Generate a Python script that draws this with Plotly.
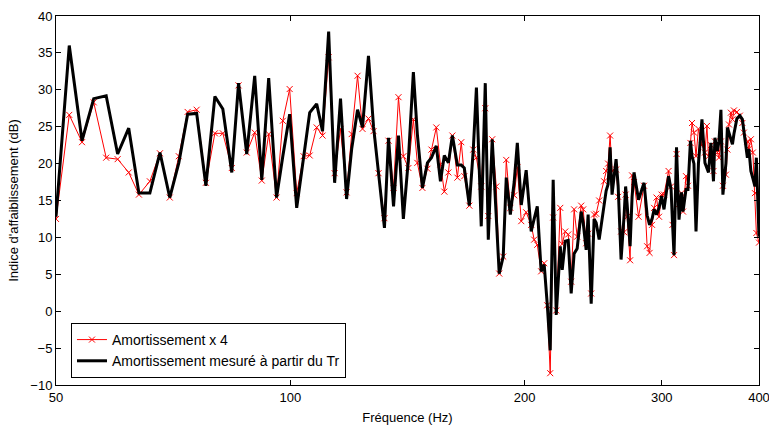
import plotly.graph_objects as go

freq_hz = [
    50.0, 52.0, 54.0, 55.9, 58.0, 60.0, 62.0, 63.9, 66.0, 68.0,
    70.0, 71.9, 73.8, 75.8, 77.9, 80.0, 81.9, 84.1, 85.8, 87.9,
    90.0, 91.9, 93.8, 96.0, 97.8, 99.8, 101.9, 104.0, 105.9, 108.1,
    110.0, 112.0, 114.0, 116.0, 118.1, 119.9, 122.0, 123.8, 126.0, 127.9,
    129.8, 132.1, 133.7, 135.7, 137.7, 139.7, 141.8, 143.9, 145.6, 147.8,
    150.0, 151.8, 154.0, 155.9, 157.7, 159.6, 161.5, 163.9, 165.8, 167.3,
    169.8, 171.8, 173.4, 175.9, 178.0, 179.6, 181.7, 183.9, 185.5, 187.7,
    189.4, 191.7, 193.9, 195.7, 198.0, 200.9, 203.9, 205.7, 207.6, 210.0,
    211.9, 213.8, 215.7, 217.6, 219.6, 222.2, 223.5, 225.5, 227.5, 229.5,
    231.5, 233.6, 236.4, 237.8, 239.9, 241.3, 243.5, 245.6, 247.1, 249.3,
    253.0, 254.5, 256.0, 257.5, 259.0, 262.1, 263.7, 266.0, 268.4, 269.6,
    270.8, 273.2, 274.8, 276.4, 280.1, 284.7, 287.3, 289.4, 291.5, 293.3,
    295.4, 297.6, 299.8, 302.0, 306.1, 308.4, 309.7, 311.1, 313.4, 315.7,
    318.1, 319.5, 322.3, 324.2, 326.6, 328.1, 330.0, 332.0, 334.4, 337.9,
    340.9, 342.9, 344.5, 347.0, 349.6, 351.1, 353.7, 355.3, 357.4, 359.5,
    362.7, 364.3, 366.0, 368.1, 369.8, 371.4, 374.7, 378.0, 380.8, 382.5,
    386.5, 388.2, 390.5, 392.8, 395.2, 396.9, 400.0,
]

amort_x4 = [
    12.5, 26.6, 22.9, 28.3, 20.8, 20.6, 18.8, 15.8, 17.6, 21.4,
    15.4, 21.0, 27.0, 27.3, 17.4, 24.1, 24.1, 19.4, 30.6, 21.5,
    24.2, 17.7, 24.0, 15.4, 25.8, 30.1, 16.0, 21.0, 21.1, 24.9,
    23.8, 34.4, 18.7, 24.7, 16.1, 24.0, 31.9, 24.7, 26.1, 24.4,
    18.7, 12.6, 23.1, 16.7, 29.0, 21.0, 19.4, 26.0, 20.1, 16.7,
    19.3, 21.9, 24.9, 19.9, 16.2, 18.8, 23.8, 18.1, 22.9, 18.3,
    14.3, 21.9, 20.8, 16.9, 27.5, 12.9, 23.3, 16.9, 5.1, 7.4,
    20.5, 14.0, 15.7, 19.5, 12.2, 13.4, 11.7, 9.7, 9.0, 5.4,
    6.5, 0.8, -8.4, 12.7, 0.1, 14.0, 9.1, 10.8, 10.4, 4.0,
    13.8, 10.1, 14.3, 13.8, 9.2, 10.5, 2.4, 13.1, 13.2, 15.0,
    17.6, 19.0, 20.0, 23.8, 19.0, 19.2, 15.5, 10.8, 10.7, 15.8,
    12.8, 6.9, 18.4, 17.5, 12.8, 17.0, 8.8, 7.9, 11.7, 14.0,
    15.4, 12.8, 15.8, 15.8, 19.0, 16.9, 11.7, 7.6, 21.3, 14.5,
    16.0, 13.5, 18.3, 17.0, 22.8, 25.5, 24.2, 21.0, 24.7, 22.5,
    21.5, 25.1, 21.0, 22.5, 19.0, 23.0, 21.5, 20.8, 23.0, 17.0,
    18.5, 21.9, 25.3, 26.9, 26.0, 27.2, 27.0, 26.5, 25.5, 24.2,
    23.0, 22.0, 23.3, 21.5, 16.0, 10.6, 9.3,
]

amort_tr = [
    12.8, 36.0, 23.1, 28.8, 29.2, 21.3, 24.8, 16.0, 16.0, 21.5,
    15.4, 20.1, 26.7, 26.8, 17.0, 29.1, 27.4, 18.8, 30.9, 21.3,
    31.9, 17.8, 31.6, 15.4, 21.0, 26.7, 14.0, 20.5, 26.9, 28.1,
    24.4, 37.9, 17.4, 28.8, 15.2, 22.0, 27.3, 24.9, 34.6, 25.0,
    18.7, 11.3, 23.5, 14.2, 23.8, 12.5, 20.6, 32.4, 24.0, 16.7,
    20.1, 20.8, 22.4, 17.6, 21.1, 20.1, 23.8, 19.8, 19.8, 19.4,
    14.3, 21.9, 30.3, 11.5, 30.9, 9.7, 23.3, 13.0, 5.1, 7.4,
    18.1, 13.1, 17.5, 22.8, 14.4, 19.1, 10.8, 12.5, 14.2, 5.4,
    6.3, 1.0, -5.3, 17.8, -0.5, 8.8, 5.6, 9.5, 9.6, 2.4,
    7.8, 8.5, 13.5, 12.0, 8.3, 13.1, 1.0, 12.5, 12.0, 9.7,
    14.0, 16.3, 17.2, 22.2, 15.8, 20.6, 17.0, 7.0, 13.0, 16.9,
    14.5, 8.8, 15.5, 18.8, 15.1, 17.4, 13.0, 11.7, 12.5, 13.8,
    13.1, 14.0, 15.6, 13.8, 18.3, 16.5, 12.0, 7.6, 22.2, 12.4,
    16.1, 13.5, 16.5, 16.5, 23.1, 21.0, 20.0, 10.8, 20.0, 26.0,
    20.1, 19.5, 18.8, 22.8, 17.6, 23.5, 21.7, 23.0, 27.3, 15.8,
    20.0, 24.9, 24.0, 23.3, 22.6, 24.0, 26.1, 26.5, 26.0, 24.4,
    20.8, 22.0, 19.0, 18.0, 16.9, 20.8, 10.1,
]

x_tick_vals = [50, 100, 200, 300, 400]
x_tick_text = ["50", "100", "200", "300", "400"]

font_family = "Liberation Sans, Arial, sans-serif"

fig = go.Figure()
fig.add_trace(go.Scatter(
    x=freq_hz, y=amort_x4, mode="lines+markers",
    name="Amortissement x 4",
    line=dict(color="#ff0000", width=1),
    marker=dict(symbol="x-thin", size=6, color="#ff0000",
                line=dict(color="#ff0000", width=1)),
))
fig.add_trace(go.Scatter(
    x=freq_hz, y=amort_tr, mode="lines",
    name="Amortissement mesuré à partir du Tr",
    line=dict(color="#000000", width=3),
))

axis_common = dict(
    showline=True, linecolor="black", linewidth=1, mirror="allticks",
    ticks="inside", ticklen=5, tickcolor="black", showgrid=False, zeroline=False,
    tickfont=dict(family=font_family, size=13, color="black"),
    ticklabeloverflow="allow", automargin=False,
)

fig.update_layout(
    width=769, height=425,
    margin=dict(l=56, r=10, t=16, b=40),
    paper_bgcolor="white", plot_bgcolor="white",
    font=dict(family=font_family, size=13, color="black"),
    xaxis=dict(type="log", range=[1.69897, 2.602061], tickvals=x_tick_vals,
               ticktext=x_tick_text,
               title=dict(text="Fréquence (Hz)", standoff=9,
                          font=dict(family=font_family, size=13)),
               **axis_common),
    yaxis=dict(range=[-10, 40], dtick=5, tick0=0,
               title=dict(text="Indice d'affaiblissement (dB)", standoff=8,
                          font=dict(family=font_family, size=13)),
               **axis_common),
    legend=dict(x=0.0213, y=0.019, xanchor="left", yanchor="bottom",
                bgcolor="white", bordercolor="black", borderwidth=1,
                font=dict(family=font_family, size=14),
                tracegroupgap=0, itemwidth=30),
    showlegend=True,
)

fig.write_html("out.html")
